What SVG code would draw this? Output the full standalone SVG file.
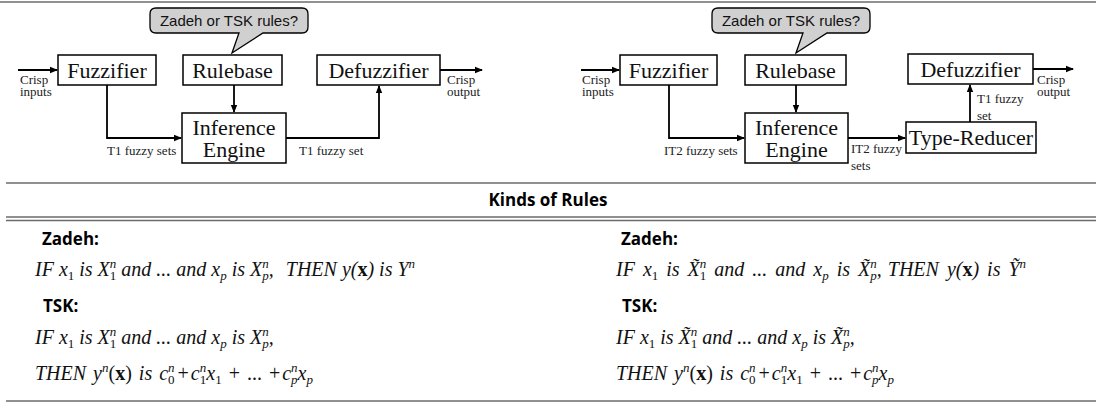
<svg xmlns="http://www.w3.org/2000/svg" width="1096" height="405" viewBox="0 0 1096 405">
<defs>
<marker id="ah" markerWidth="8" markerHeight="8" refX="7" refY="4" orient="auto" markerUnits="userSpaceOnUse">
<path d="M0,0.8 L8,4 L0,7.2 Z" fill="#000"/>
</marker>
<style>
.box{fill:#fff;stroke:#000;stroke-width:1.5}
.bt{font-family:"Liberation Serif","Times New Roman",serif;font-size:22px;fill:#111;text-anchor:middle}
.lb{font-family:"Liberation Serif","Times New Roman",serif;font-size:13px;fill:#222}
.call{fill:#d0d0d0;stroke:#000;stroke-width:1.3}
.ct{font-family:"Liberation Sans",Arial,sans-serif;font-size:15px;fill:#111;text-anchor:middle}
.conn path{fill:none;stroke:#000;stroke-width:1.8}
.sep{stroke:#6b6b6b;stroke-width:1.5}
.hd{font-family:"Open Sans","Liberation Sans",sans-serif;font-weight:bold;fill:#000}
.m{font-family:"Liberation Serif","Times New Roman",serif;font-size:20px;font-style:italic;fill:#111}
.w{word-spacing:2px}
.s{font-size:13px;font-style:normal}
.si{font-size:13px;font-style:italic}
.b{font-weight:bold;font-style:normal}
.u{font-style:normal}
</style>
</defs>
<rect width="1096" height="405" fill="#fff"/>
<line class="sep" x1="0" y1="2" x2="1096" y2="2"/>

<!-- LEFT DIAGRAM -->
<g id="callout-left">
<path class="call" d="M156,8 H302 Q308,8 308,14 V27 Q308,33 302,33 H263 L232,53 L239,33 H156 Q150,33 150,27 V14 Q150,8 156,8 Z"/>
<text class="ct" x="229" y="26">Zadeh or TSK rules?</text>
</g>
<g id="fuzzifier-left"><rect class="box" x="58" y="55" width="98" height="30"/><text class="bt" x="107" y="78">Fuzzifier</text></g>
<g id="rulebase-left"><rect class="box" x="183" y="55" width="99" height="30"/><text class="bt" x="232.5" y="78">Rulebase</text></g>
<g id="defuzzifier-left"><rect class="box" x="317" y="55" width="123" height="30"/><text class="bt" x="378.5" y="78">Defuzzifier</text></g>
<g id="inference-left"><rect class="box" x="182" y="113" width="104" height="50"/><text class="bt" x="234" y="135">Inference</text><text class="bt" x="234" y="157">Engine</text></g>

<!-- RIGHT DIAGRAM -->
<g id="callout-right">
<path class="call" d="M718,8 H864 Q870,8 870,14 V27 Q870,33 864,33 H827 L796,53 L803,33 H718 Q712,33 712,27 V14 Q712,8 718,8 Z"/>
<text class="ct" x="791" y="26">Zadeh or TSK rules?</text>
</g>
<g id="fuzzifier-right"><rect class="box" x="620" y="55" width="97" height="30"/><text class="bt" x="668.5" y="78">Fuzzifier</text></g>
<g id="rulebase-right"><rect class="box" x="745" y="55" width="101" height="30"/><text class="bt" x="795.5" y="78">Rulebase</text></g>
<g id="inference-right"><rect class="box" x="745" y="113" width="103" height="50"/><text class="bt" x="796.5" y="135">Inference</text><text class="bt" x="796.5" y="157">Engine</text></g>
<g id="typereducer-right"><rect class="box" x="906" y="122" width="130" height="31"/><text class="bt" x="971" y="145">Type-Reducer</text></g>
<g id="defuzzifier-right"><rect class="box" x="908" y="54" width="125" height="30"/><text class="bt" x="970.5" y="77">Defuzzifier</text></g>

<g id="connectors" class="conn">
<path d="M18,70 H57" marker-end="url(#ah)"/>
<path d="M107,85 V138 H181" marker-end="url(#ah)"/>
<path d="M234,85 V112" marker-end="url(#ah)"/>
<path d="M286,138 H379 V86" marker-end="url(#ah)"/>
<path d="M440,70 H482" marker-end="url(#ah)"/>
<path d="M581,70 H619" marker-end="url(#ah)"/>
<path d="M669,85 V138 H744" marker-end="url(#ah)"/>
<path d="M796,85 V112" marker-end="url(#ah)"/>
<path d="M848,138 H905" marker-end="url(#ah)"/>
<path d="M970,122 V85" marker-end="url(#ah)"/>
<path d="M1033,69 H1073" marker-end="url(#ah)"/>
</g>

<g id="labels">
<text class="lb" x="20" y="84">Crisp</text><text class="lb" x="20" y="96">inputs</text>
<text class="lb" x="107" y="155">T1 fuzzy sets</text>
<text class="lb" x="299" y="155">T1 fuzzy set</text>
<text class="lb" x="447" y="84">Crisp</text><text class="lb" x="447" y="96">output</text>
<text class="lb" x="582" y="84">Crisp</text><text class="lb" x="582" y="96">inputs</text>
<text class="lb" x="664" y="155">IT2 fuzzy sets</text>
<text class="lb" x="851" y="153">IT2 fuzzy</text><text class="lb" x="851" y="170">sets</text>
<text class="lb" x="977" y="103">T1 fuzzy</text><text class="lb" x="977" y="120">set</text>
<text class="lb" x="1037" y="84">Crisp</text><text class="lb" x="1037" y="96">output</text>
</g>

<!-- KINDS OF RULES TABLE -->
<line class="sep" x1="6" y1="183" x2="1096" y2="183"/>
<text class="hd" x="548" y="206" font-size="17" text-anchor="middle">Kinds of Rules</text>
<line class="sep" x1="6" y1="217" x2="1096" y2="217"/>
<line class="sep" x1="6" y1="220.5" x2="1096" y2="220.5"/>
<line class="sep" x1="6" y1="401" x2="1096" y2="401"/>

<text class="hd" x="42" y="245" font-size="17">Zadeh:</text>
<text class="m" x="35" y="276">IF x<tspan class="s" dy="4">1</tspan><tspan dy="-4"> is X</tspan><tspan class="si" dy="-8">n</tspan><tspan class="s" dx="-6.5" dy="12">1</tspan><tspan dy="-4"> and ... and x</tspan><tspan class="si" dy="4">p</tspan><tspan dy="-4"> is X</tspan><tspan class="si" dy="-8">n</tspan><tspan class="si" dx="-6.5" dy="12">p</tspan><tspan dy="-4">,</tspan><tspan dx="12">THEN y(</tspan><tspan class="b">x</tspan>) is Y<tspan class="si" dy="-8">n</tspan></text>
<text class="hd" x="43" y="312" font-size="17">TSK:</text>
<text class="m" x="35" y="344">IF x<tspan class="s" dy="4">1</tspan><tspan dy="-4"> is X</tspan><tspan class="si" dy="-8">n</tspan><tspan class="s" dx="-6.5" dy="12">1</tspan><tspan dy="-4"> and ... and x</tspan><tspan class="si" dy="4">p</tspan><tspan dy="-4"> is X</tspan><tspan class="si" dy="-8">n</tspan><tspan class="si" dx="-6.5" dy="12">p</tspan><tspan dy="-4">,</tspan></text>
<text class="m w" x="35" y="380">THEN y<tspan class="si" dy="-8">n</tspan><tspan class="u" dy="8">(</tspan><tspan class="b">x</tspan><tspan class="u">)</tspan> is c<tspan class="si" dy="-8">n</tspan><tspan class="s" dx="-6.5" dy="12">0</tspan><tspan class="u" dy="-4" dx="3">+</tspan><tspan dx="2">c</tspan><tspan class="si" dy="-8">n</tspan><tspan class="s" dx="-6.5" dy="12">1</tspan><tspan dy="-4">x</tspan><tspan class="s" dy="4">1</tspan><tspan class="u" dy="-4"> + ... +</tspan><tspan dx="2">c</tspan><tspan class="si" dy="-8">n</tspan><tspan class="si" dx="-6.5" dy="12">p</tspan><tspan dy="-4">x</tspan><tspan class="si" dy="4">p</tspan></text>

<text class="hd" x="621" y="245" font-size="17">Zadeh:</text>
<text class="m" x="616" y="276" style="word-spacing:3px">IF x<tspan class="s" dy="4">1</tspan><tspan dy="-4"> is X̃</tspan><tspan class="si" dy="-8">n</tspan><tspan class="s" dx="-6.5" dy="12">1</tspan><tspan dy="-4"> and ... and x</tspan><tspan class="si" dy="4">p</tspan><tspan dy="-4"> is X̃</tspan><tspan class="si" dy="-8">n</tspan><tspan class="si" dx="-6.5" dy="12">p</tspan><tspan dy="-4">,</tspan><tspan dx="6">THEN y(</tspan><tspan class="b">x</tspan>) is Ỹ<tspan class="si" dy="-8">n</tspan></text>
<text class="hd" x="622" y="312" font-size="17">TSK:</text>
<text class="m" x="616" y="344">IF x<tspan class="s" dy="4">1</tspan><tspan dy="-4"> is X̃</tspan><tspan class="si" dy="-8">n</tspan><tspan class="s" dx="-6.5" dy="12">1</tspan><tspan dy="-4"> and ... and x</tspan><tspan class="si" dy="4">p</tspan><tspan dy="-4"> is X̃</tspan><tspan class="si" dy="-8">n</tspan><tspan class="si" dx="-6.5" dy="12">p</tspan><tspan dy="-4">,</tspan></text>
<text class="m w" x="616" y="380">THEN y<tspan class="si" dy="-8">n</tspan><tspan class="u" dy="8">(</tspan><tspan class="b">x</tspan><tspan class="u">)</tspan> is c<tspan class="si" dy="-8">n</tspan><tspan class="s" dx="-6.5" dy="12">0</tspan><tspan class="u" dy="-4" dx="3">+</tspan><tspan dx="2">c</tspan><tspan class="si" dy="-8">n</tspan><tspan class="s" dx="-6.5" dy="12">1</tspan><tspan dy="-4">x</tspan><tspan class="s" dy="4">1</tspan><tspan class="u" dy="-4"> + ... +</tspan><tspan dx="2">c</tspan><tspan class="si" dy="-8">n</tspan><tspan class="si" dx="-6.5" dy="12">p</tspan><tspan dy="-4">x</tspan><tspan class="si" dy="4">p</tspan></text>
</svg>
